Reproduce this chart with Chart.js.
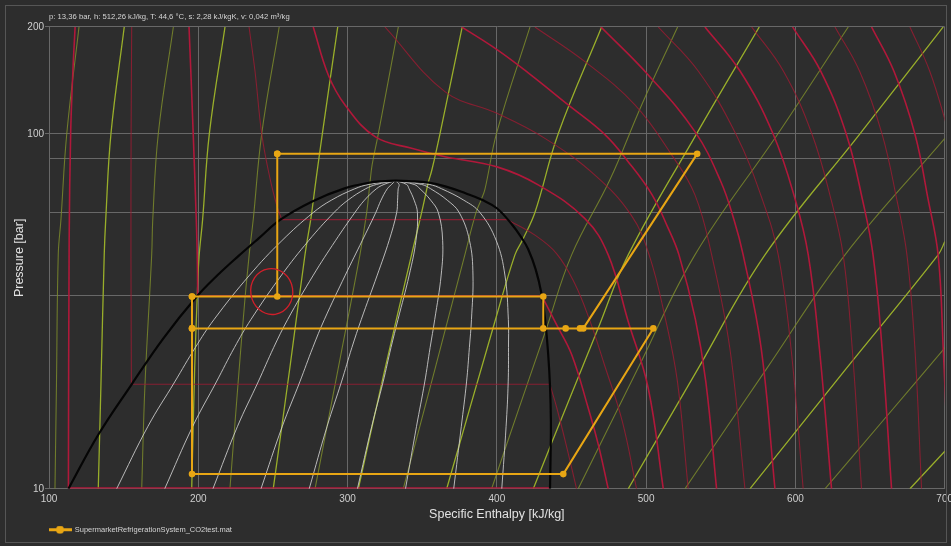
<!DOCTYPE html>
<html>
<head>
<meta charset="utf-8">
<title>CO2 p-h diagram</title>
<script src="https://cdn.jsdelivr.net/npm/chart.js"></script>
<style>
  html, body { margin: 0; padding: 0; background: #2d2d2d; overflow: hidden; }
  #wrap { position: relative; width: 951px; height: 546px; }
  #chart { display: block; }
  #frame { position: absolute; left: 5px; top: 5px; width: 940px; height: 536px; border: 1px solid #565656; pointer-events: none; }
</style>
</head>
<body>
<div id="wrap">
  <canvas id="chart" width="951" height="546"></canvas>
  <div id="frame"></div>
</div>
<script>
// ---------- axes ----------
const enthalpyTicks = [100, 200, 300, 400, 500, 600, 700];
const pressureGrid = [10, 35, 60, 85, 100, 200];
const pressureLabels = [10, 100, 200];
const readout = 'p: 13,36 bar, h: 512,26 kJ/kg, T: 44,6 °C, s: 2,28 kJ/kgK, v: 0,042 m³/kg';
const cycleName = 'SupermarketRefrigerationSystem_CO2test.mat';

// ---------- refrigeration cycle (h kJ/kg, p bar), in drawing order ----------
const cycleH = [252.9, 252.9, 195.8, 195.8, 195.8, 444.5, 504.8, 195.8, 195.8, 431.1, 431.1, 446.1, 455.7, 457.9, 534.2, 252.9];
const cycleP = [87.8, 34.8, 34.8, 28.3, 11.0, 11.0, 28.3, 28.3, 34.8, 34.8, 28.3, 28.3, 28.3, 28.3, 87.8, 87.8];

// ---------- saturation dome [h, p] ----------
const domeLiquid = [[113,10],[133,14.2],[155.4,19.7],[176.5,26.5],[199,34.8],[213,40],[227,45.3],[241,51],[255,57.3],[276,64.4],[298,70.2],[315,72.9],[323,73.5],[332,73.8]];
const domeVapour = [[332,73.8],[341,73.6],[354,72.9],[366,71],[379,68],[390,65.2],[400,61.7],[410,55.6],[416.5,51],[421,47.3],[426,41.5],[430,35.3],[432.5,29.5],[434.4,23.9],[435.6,19.5],[436.2,15.5],[436,12.5],[435.6,10]];

// ---------- constant quality lines x = 0.1 ... 0.9 (h at each pressure) ----------
const qualityP = [10, 15, 20, 25, 30, 40, 50, 60, 65, 70, 72, 73.8];
const quality10 = [145.3, 166.3, 184.2, 198.0, 210.6, 234.4, 256.0, 277.0, 289.1, 304.8, 314.3, 332];
const quality20 = [177.5, 196.3, 212.1, 224.2, 235.3, 255.8, 273.9, 290.9, 300.2, 312.1, 319.4, 332];
const quality30 = [209.8, 226.3, 240.1, 250.5, 259.9, 277.1, 291.9, 304.9, 311.3, 319.3, 324.4, 332];
const quality40 = [242.0, 256.3, 268.0, 276.7, 284.5, 298.5, 309.8, 318.9, 322.4, 326.6, 329.5, 332];
const quality50 = [274.3, 286.3, 295.9, 302.9, 309.2, 319.9, 327.8, 332.9, 333.5, 333.9, 334.5, 332];
const quality60 = [306.6, 316.2, 323.8, 329.1, 333.8, 341.3, 345.8, 346.8, 344.6, 341.2, 339.5, 332];
const quality70 = [338.8, 346.2, 351.7, 355.3, 358.4, 362.7, 363.7, 360.8, 355.7, 348.5, 344.6, 332];
const quality80 = [371.1, 376.2, 379.7, 381.6, 383.0, 384.0, 381.7, 374.8, 366.8, 355.7, 349.6, 332];
const quality90 = [403.3, 406.2, 407.6, 407.8, 407.7, 405.4, 399.6, 388.7, 377.9, 363.0, 354.7, 332];

// ---------- isotherms every 20 °C [h, p] ----------
const tm40Liquid = [[117.5,200],[116,150],[114.5,100],[113.5,50],[113,10.05]];
const tm40Wet = [[113,10.05],[435.6,10.05]];
const tm20Liquid = [[155.4,200],[155,100],[154.9,45],[155.2,19.7]];
const tm20Wet = [[155.2,19.7],[435.5,19.7]];
const tm20Vapour = [[435.5,19.7],[440,17],[447,13],[453.4,10]];
const t0Liquid = [[193.8,200],[195,150],[196.6,100],[198.5,60],[199.3,45.7],[199.6,34.9]];
const t0Wet = [[199.6,34.9],[430.2,34.9]];
const t0Vapour = [[430.2,34.9],[440,29],[450.1,23.9],[461,17],[468,13.3],[474.6,10]];
const t20Liquid = [[234,200],[238,150],[242.5,100],[248,75],[253,62],[256,57.3]];
const t20Wet = [[256,57.3],[407,57.3]];
const t20Vapour = [[407,57.3],[425,52],[440,46],[452,38],[462,30],[472,22.4],[484,15.5],[493.6,10]];
const t40 = [[277,200],[287.1,146.5],[298.3,120.6],[318.4,98.2],[342.9,91],[365.2,86.2],[400.1,80.7],[427.7,71.8],[459,57.7],[474.6,45.6],[488,29.6],[501.4,19.2],[511.5,10]];
const t60 = [[325,200],[365.2,131.5],[400.1,114.2],[432.2,97.1],[465.7,76.5],[490,59],[502,45.6],[513,30],[521,20],[528.2,10]];
const t80 = [[376.4,200],[400.1,172.6],[420.8,148.7],[447.6,120.8],[472.4,99.5],[487.8,83.6],[503.9,67.4],[514.6,54.4],[522,45.6],[533,30],[540,20],[547.2,10]];
const t100 = [[425.5,200],[459,159.7],[492.5,120.6],[517.1,87.2],[532.7,67.3],[543.9,45.6],[556,25],[566.2,10]];
const t120 = [[469.7,200],[501.4,146.5],[532.7,101.4],[550,73.4],[559,57],[565,45.6],[577,25],[586.3,10]];
const t140 = [[508.1,200],[535,150],[560,100],[578,65],[588.5,45.6],[597,25],[605.2,10]];
const t160 = [[539.4,200],[563,150],[585,100],[600,65],[608.6,45.6],[616,25],[624.2,10]];
const t180 = [[570.7,200],[592,150],[611,100],[624,65],[632,45.6],[638,25],[644.3,10]];
const t200 = [[598.1,200],[617,150],[634,100],[645,65],[652,45.6],[658,25],[664.4,10]];
const t220 = [[626.5,200],[643,150],[658,100],[668,65],[674.7,45.6],[680,25],[684.5,10]];
const t240 = [[651,200],[666,150],[680,100],[689,65],[695.6,45.6],[699,25],[703,10]];
const t260 = [[676.7,200],[690,150],[703,100]];

// ---------- isentropes [h, p] ----------
const s1 = [[120.1,200],[111.9,100],[108.0,57.3],[106.2,45.7],[105.0,19.7],[104.0,10]];
const s2 = [[150.4,200],[141.5,100],[138.0,57.3],[137.0,45.7],[134.8,19.7],[133.0,10]];
const s3 = [[183.3,200],[173.2,100],[169.5,57.3],[168.8,45.7],[164.3,19.7],[162.1,10]];
const s4Liquid = [[217.9,200],[207.4,100],[202.9,57.3],[200.5,45],[199.3,35]];
const s4Wet = [[199.3,35],[197.6,22],[195.6,10]];
const s5Liquid = [[254.2,200],[242.5,100],[236.8,57.3],[234.5,47.5]];
const s5Wet = [[234.5,47.5],[231.3,34.4],[226.6,19.7],[221.2,10]];
const s6Liquid = [[293.4,200],[283.1,100],[279,75],[277,64.6]];
const s6Wet = [[277,64.6],[275.5,58],[271.5,45.7],[261.4,22],[250.2,10]];
const s7Liquid = [[334,200],[320.6,100],[316.5,82],[315,72.9]];
const s7Wet = [[315,72.9],[312.8,60],[308.3,45.7],[293.6,21.7],[278.2,10]];
const s8Vapour = [[376.8,200],[361.9,100],[356.5,79.2],[354,72.9]];
const s8Wet = [[354,72.9],[349.6,60],[342.9,45.7],[325,21.7],[307.2,10]];
const s9Vapour = [[422.2,200],[400.1,101.4],[392,69.7],[389.4,65]];
const s9Wet = [[389.4,65],[386,60],[378.6,45.7],[358.5,21.7],[337.3,10]];
const s10Vapour = [[470.2,200],[441.1,100],[425.5,60],[417,50]];
const s10Wet = [[417,50],[412.1,45.6],[398.7,29.6],[366.4,10]];
const s11Vapour = [[521.1,200],[497,120.6],[475.8,74.3],[450.1,45.6],[433,28.1]];
const s11Wet = [[433,28.1],[414.7,16.8],[396.5,10]];
const s12Vapour = [[575.8,200],[533.8,100],[488,45.6],[467.5,28.1],[436.2,13.3]];
const s12Wet = [[436.2,13.3],[424.4,10]];
const s13 = [[635.4,200],[588.3,100],[532.7,45.6],[494.2,21.7],[454.5,10]];
const s14 = [[699,200],[643.2,100],[579.6,45.6],[534.5,21.7],[488,10]];
const s15 = [[700.1,97.1],[633.2,45.6],[580.4,21.7],[526,10]];
const s16 = [[700.1,49.7],[695.6,45.6],[633.6,21.7],[569.5,10]];
const s17 = [[700.1,24.95],[658.9,15.6],[619.8,10]];
const s18 = [[700.1,12.76],[676.7,10]];

// ---------- styling ----------
const FONT = "'Liberation Sans', Arial, sans-serif";
const GRID = '#686868';
const CYCLE = '#e8a614';
const RED_MAJOR = '#b0183a';
const RED_MINOR = 'rgba(155,28,50,0.8)';
const GREEN_MAJOR = '#99ae2a';
const GREEN_MINOR = 'rgba(128,142,44,0.8)';
const QUALITY = 'rgba(210,210,210,0.85)';

const toXY = arr => arr.map(([h, p]) => ({ x: h, y: p }));
const zipHP = (hs, ps) => hs.map((h, i) => ({ x: h, y: ps[i] }));

function curve(data, color, width, order) {
  return {
    label: '', data, borderColor: color, backgroundColor: color, borderWidth: width,
    pointRadius: 0, pointHoverRadius: 0, tension: 0.4, fill: false, order
  };
}

const datasets = [];

datasets.push({
  label: cycleName, data: zipHP(cycleH, cycleP), borderColor: CYCLE, backgroundColor: CYCLE,
  borderWidth: 2, borderJoinStyle: 'round', pointRadius: 3.3, pointBackgroundColor: CYCLE,
  pointBorderWidth: 0, tension: 0, fill: false, order: 0
});

datasets.push(curve(toXY(domeLiquid.concat(domeVapour.slice(1))), '#050505', 2.2, 1));

[quality10, quality20, quality30, quality40, quality50, quality60, quality70, quality80, quality90]
  .forEach(q => datasets.push(curve(zipHP(q, qualityP), QUALITY, 1, 2)));

[tm40Liquid, tm40Wet, t0Liquid, t0Wet, t0Vapour, t40, t80, t120, t160, t200, t240]
  .forEach(t => datasets.push(curve(toXY(t), RED_MAJOR, 1.6, 3)));
[tm20Liquid, tm20Wet, tm20Vapour, t20Liquid, t20Wet, t20Vapour, t60, t100, t140, t180, t220, t260]
  .forEach(t => datasets.push(curve(toXY(t), RED_MINOR, 1.1, 4)));

[s2, s4Liquid, s4Wet, s6Liquid, s6Wet, s8Vapour, s8Wet, s10Vapour, s10Wet, s12Vapour, s12Wet, s14, s16, s18]
  .forEach(s => datasets.push(curve(toXY(s), GREEN_MAJOR, 1.3, 5)));
[s1, s3, s5Liquid, s5Wet, s7Liquid, s7Wet, s9Vapour, s9Wet, s11Vapour, s11Wet, s13, s15, s17]
  .forEach(s => datasets.push(curve(toXY(s), GREEN_MINOR, 1.1, 6)));

// legend marker: short line with a dot
const legendIcon = document.createElement('canvas');
legendIcon.width = 24; legendIcon.height = 9;
(() => {
  const g = legendIcon.getContext('2d');
  g.strokeStyle = CYCLE; g.lineWidth = 3;
  g.beginPath(); g.moveTo(0, 4.5); g.lineTo(24, 4.5); g.stroke();
  g.fillStyle = CYCLE; g.beginPath(); g.arc(12, 4.5, 4, 0, Math.PI * 2); g.fill();
})();

// hand-drawn style ring around the valve outlet state
const valveRing = {
  id: 'valveRing',
  afterDatasetsDraw(chart) {
    const { ctx, scales } = chart;
    const cx = scales.x.getPixelForValue(cycleH[1]) - 5.5;
    const cy = scales.y.getPixelForValue(cycleP[1]) - 5;
    ctx.save();
    ctx.strokeStyle = '#d21f2a';
    ctx.lineWidth = 1.3;
    ctx.beginPath();
    ctx.ellipse(cx, cy, 21, 23, -0.15, 0, Math.PI * 2);
    ctx.stroke();
    ctx.restore();
  }
};

new Chart(document.getElementById('chart'), {
  type: 'line',
  data: { datasets },
  options: {
    responsive: false,
    animation: false,
    events: [],
    layout: { padding: { left: 8, right: 6.3, top: 0, bottom: 2.5 } },
    plugins: {
      title: {
        display: true, text: readout, align: 'start', fullSize: false, color: '#d4d4d4',
        font: { family: FONT, size: 7.7, weight: 'normal' }, padding: { top: 12, bottom: 5.7 }
      },
      legend: {
        display: true, position: 'bottom', align: 'start', fullSize: false,
        labels: {
          usePointStyle: true, pointStyle: legendIcon, pointStyleWidth: 22, boxHeight: 7, padding: 0,
          color: '#d4d4d4', font: { family: FONT, size: 7.5 },
          filter: item => item.text === cycleName
        }
      },
      tooltip: { enabled: false }
    },
    scales: {
      x: {
        type: 'linear', min: 100, max: 700,
        afterBuildTicks: s => { s.ticks = enthalpyTicks.map(v => ({ value: v })); },
        afterFit: s => { s.height = 37.2; s.paddingLeft = 0; s.paddingRight = 0; },
        grid: { color: GRID, lineWidth: 1, tickLength: 4, tickColor: 'rgba(0,0,0,0)' },
        border: { color: GRID },
        ticks: { color: '#cfcfcf', font: { family: FONT, size: 10 }, padding: 0, maxRotation: 0, autoSkip: false },
        title: {
          display: true, text: 'Specific Enthalpy [kJ/kg]', color: '#e2e2e2',
          font: { family: FONT, size: 12.5 }, padding: { top: 0, bottom: 3.5 }
        }
      },
      y: {
        type: 'logarithmic', min: 10, max: 200,
        afterBuildTicks: s => { s.ticks = pressureGrid.map(v => ({ value: v })); },
        afterFit: s => { s.width = 41; },
        grid: {
          color: GRID, lineWidth: 1, tickLength: 4,
          tickColor: c => (c.tick && pressureLabels.includes(c.tick.value)) ? GRID : 'rgba(0,0,0,0)'
        },
        border: { color: GRID },
        ticks: {
          color: '#cfcfcf', font: { family: FONT, size: 10 }, padding: 1, autoSkip: false,
          callback: v => pressureLabels.includes(v) ? String(v) : ''
        },
        title: {
          display: true, text: 'Pressure [bar]', color: '#e2e2e2',
          font: { family: FONT, size: 12.5 }, padding: { top: 4.5, bottom: 0 }
        }
      }
    }
  },
  plugins: [valveRing]
});
</script>
</body>
</html>
